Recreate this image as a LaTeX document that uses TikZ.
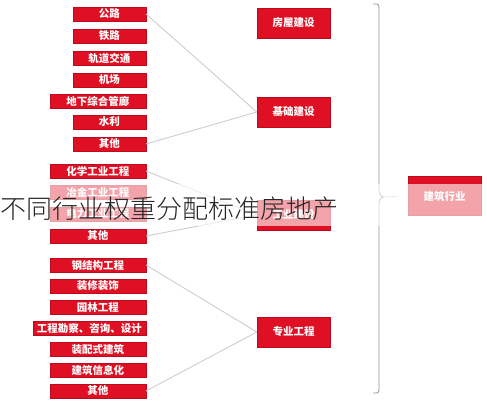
\documentclass[tikz,border=0pt]{standalone}
\usepackage{fontspec}
\setmainfont{Noto Sans CJK SC}
\newfontfamily\capfont{Noto Sans CJK SC Light}
\usetikzlibrary{positioning}

\definecolor{boxred}{RGB}{224,16,36}
\definecolor{boxedge}{RGB}{190,10,28}
\definecolor{linkgray}{RGB}{205,205,205}
\definecolor{bracegray}{RGB}{150,150,150}

\begin{document}
\begin{tikzpicture}[x=1pt,y=-1pt,
    leaf/.style={rectangle, draw=boxedge, fill=boxred, text=white, anchor=east,
        minimum height=14pt, inner sep=1pt, font=\fontsize{10.5}{10.5}\selectfont\bfseries},
    cat/.style={rectangle, draw=boxedge, fill=boxred, text=white,
        minimum width=73pt, minimum height=30pt, font=\fontsize{10.5}{10.5}\selectfont\bfseries},
    link/.style={draw=linkgray, line width=0.9pt}]
        \useasboundingbox (0,0) rectangle (487,400);

        %% Leaves, group 1
        \node[leaf, minimum width=73pt] (gl) at (146,14) {公路};
        \node[leaf, minimum width=73pt] (tl) at (146,36) {铁路};
        \node[leaf, minimum width=73pt] (gd) at (146,58) {轨道交通};
        \node[leaf, minimum width=73pt] (jc) at (146,80) {机场};
        \node[leaf, minimum width=96pt] (gl2) at (146,101) {地下综合管廊};
        \node[leaf, minimum width=73pt] (sl) at (146,122) {水利};
        \node[leaf, minimum width=73pt] (qt1) at (146,144) {其他};

        %% Leaves, group 2
        \node[leaf, minimum width=96pt] (hx) at (146,171) {化学工业工程};
        \node[leaf, minimum width=96pt] (yj) at (146,192) {冶金工业工程};
        \node[leaf, minimum width=96pt] (dl) at (146,214) {电力工业工程};
        \node[leaf, minimum width=96pt] (qt2) at (146,236) {其他};

        %% Leaves, group 3
        \node[leaf, minimum width=96pt] (gjg) at (146,265) {钢结构工程};
        \node[leaf, minimum width=96pt] (zx) at (146,286) {装修装饰};
        \node[leaf, minimum width=96pt] (yl) at (146,307) {园林工程};
        \node[leaf, minimum width=113pt] (kc) at (146,328) {工程勘察、咨询、设计};
        \node[leaf, minimum width=96pt] (zp) at (146,349) {装配式建筑};
        \node[leaf, minimum width=96pt] (xx) at (146,370) {建筑信息化};
        \node[leaf, minimum width=96pt] (qt3) at (146,391) {其他};

        %% Categories
        \node[cat] (fw) at (293.5,23) {房屋建设};
        \node[cat] (jcjs) at (293.5,112) {基础建设};
        \node[cat] (gy) at (293.5,215) {工业建设};
        \node[cat] (zy) at (293.5,332) {专业工程};

        \draw[link] (gl.east) -- (jcjs.west);
        \draw[link] (qt1.east) -- (jcjs.west);
        \draw[link] (hx.east) -- (gy.west);
        \draw[link] (qt2.east) -- (gy.west);
        \draw[link] (gjg.east) -- (zy.west);
        \draw[link] (qt3.east) -- (zy.west);

        %% Brace and industry
        \node[rectangle, draw=boxedge, fill=boxred, text=white, minimum width=73pt,
            minimum height=39pt, font=\fontsize{10.5}{10.5}\selectfont\bfseries] (jzhy) at (444.5,196) {建筑行业};
        \draw[draw=bracegray, line width=0.9pt] (373,4) -- (377,4) to[out=0,in=90] (379,8)
            -- (379,190) to[out=270,in=180] (384,197) coordinate (tip)
            to[out=180,in=90] (379,204) -- (379,389) to[out=270,in=0] (377,393) -- (373,393);
        \draw[link, shorten >=11pt] (tip) -- (jzhy.west);

        %% Overlay caption
        \fill[white, opacity=0.62] (0,184) rectangle (487,226);
        \node[anchor=west, inner sep=0pt, text=black!85, font=\fontsize{26}{26}\capfont] (cap) at (0,209) {不同行业权重分配标准房地产};
    \end{tikzpicture}
\end{document}
